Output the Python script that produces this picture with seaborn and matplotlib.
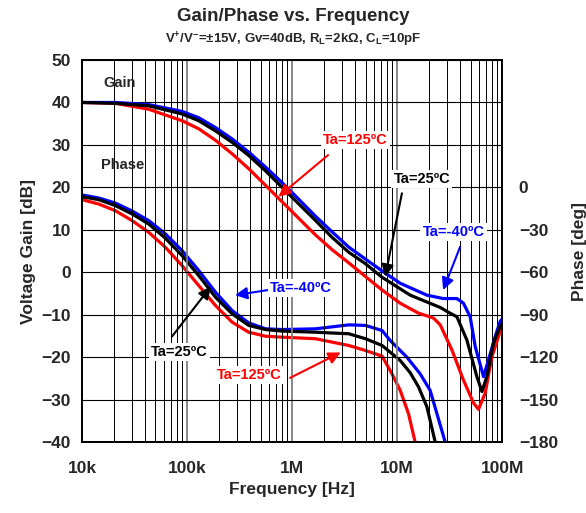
import numpy as np
import pandas as pd
import matplotlib
matplotlib.use("Agg")
import matplotlib.pyplot as plt
import seaborn as sns

# ---- data (frequency given as log10 of Hz) ----
# gain curves [dB]
logf_gain_25 = [4.000, 4.317, 4.635, 4.952, 5.111, 5.270, 5.429, 5.587, 5.746, 5.905, 6.063, 6.222,
                6.381, 6.540, 6.698, 6.857, 7.124, 7.410, 7.500, 7.569, 7.664, 7.759, 7.807, 7.854,
                7.917, 7.980, 8.000]
gain_25 = [40.0, 39.8, 39.2, 37.3, 35.7, 33.3, 30.6, 27.5, 23.9, 20.0, 16.1, 12.2,
           8.2, 4.7, 2.0, -1.2, -5.4, -8.3, -9.6, -10.5, -16.0, -24.6, -28.1, -24.6,
           -16.7, -12.8, -12.2]

logf_gain_m40 = [4.000, 4.317, 4.635, 4.952, 5.111, 5.270, 5.429, 5.587, 5.746, 5.905, 6.063, 6.222,
                 6.381, 6.540, 6.698, 6.857, 7.029, 7.283, 7.438, 7.569, 7.631, 7.695, 7.743, 7.822,
                 7.869, 7.933, 7.980, 8.000]
gain_m40 = [40.0, 40.0, 39.5, 37.9, 36.4, 34.1, 31.4, 28.3, 24.8, 21.1, 17.2, 13.2,
            9.5, 5.9, 3.1, 0.3, -2.6, -5.4, -6.2, -6.2, -7.3, -10.5, -17.5, -24.6,
            -20.7, -15.2, -11.6, -11.0]

logf_gain_125 = [4.000, 4.317, 4.635, 4.952, 5.111, 5.270, 5.429, 5.587, 5.746, 5.905, 6.063, 6.222,
                 6.381, 6.540, 6.698, 6.857, 7.029, 7.200, 7.346, 7.410, 7.521, 7.631, 7.727, 7.774,
                 7.838, 7.902, 7.980, 8.000]
gain_125 = [40.0, 39.8, 38.4, 35.7, 33.8, 31.1, 27.9, 24.4, 20.5, 16.6, 12.7, 8.8,
            5.3, 2.2, -1.0, -4.2, -7.3, -9.6, -10.8, -12.4, -18.3, -25.4, -30.8, -32.3,
            -28.5, -19.9, -14.0, -13.0]

# phase curves [deg]
logf_ph_25 = [4.000, 4.159, 4.317, 4.476, 4.635, 4.794, 4.952, 5.111, 5.270, 5.429, 5.587, 5.746,
              5.905, 6.222, 6.540, 6.698, 6.857, 7.029, 7.124, 7.203, 7.283, 7.362]
phase_25 = [-6.6, -8.7, -12.9, -18.8, -25.9, -36.0, -48.2, -62.4, -77.6, -89.4, -97.6, -100.5,
            -101.6, -102.4, -103.5, -107.0, -111.8, -122.4, -131.0, -141.0, -155.0, -180.0]

logf_ph_m40 = [4.000, 4.159, 4.317, 4.476, 4.635, 4.794, 4.952, 5.111, 5.270, 5.429, 5.587, 5.746,
               5.905, 6.222, 6.540, 6.698, 6.857, 6.933, 7.092, 7.219, 7.314, 7.457]
phase_m40 = [-5.4, -7.5, -11.1, -16.7, -23.5, -32.9, -44.7, -58.8, -74.1, -87.1, -95.8, -100.0,
             -100.5, -100.0, -97.2, -97.6, -101.2, -108.2, -120.0, -131.8, -143.5, -180.0]

logf_ph_125 = [4.000, 4.159, 4.317, 4.476, 4.635, 4.794, 4.952, 5.111, 5.270, 5.429, 5.587, 5.746,
               5.905, 6.222, 6.540, 6.698, 6.857, 6.950, 7.029, 7.108, 7.171]
phase_125 = [-8.7, -11.8, -16.5, -23.5, -31.8, -42.4, -55.3, -69.4, -83.5, -95.3, -102.4, -105.2,
             -105.9, -107.0, -111.8, -115.3, -119.3, -131.8, -143.5, -160.0, -180.0]

x_ticks = [1e4, 1e5, 1e6, 1e7, 1e8]
x_tick_labels = ["10k", "100k", "1M", "10M", "100M"]
gain_ticks = list(range(-40, 51, 10))
phase_ticks = list(range(-180, 1, 30))

sns.set_style("white")
plt.rcParams["font.family"] = ["Liberation Sans", "DejaVu Sans"]
plt.rcParams["font.weight"] = "bold"
plt.rcParams["mathtext.fontset"] = "custom"
plt.rcParams["mathtext.rm"] = "Liberation Sans:bold"
plt.rcParams["mathtext.it"] = "Liberation Sans:bold"
plt.rcParams["mathtext.bf"] = "Liberation Sans:bold"

fig = plt.figure(figsize=(5.86, 5.13), dpi=100)
ax = fig.add_axes([0.140, 0.1384, 0.717, 0.7446])
ax2 = ax.twinx()

RED, BLUE, BLACK = "#ff0000", "#0000ff", "#000000"
LW = 2.3

def draw(a, logf, v, c):
    df = pd.DataFrame({"f": np.power(10.0, logf), "v": v})
    sns.lineplot(data=df, x="f", y="v", ax=a, color=c, lw=LW, sort=False, legend=False)

# gain on left axis
draw(ax, logf_gain_125, gain_125, RED)
draw(ax, logf_gain_m40, gain_m40, BLUE)
draw(ax, logf_gain_25, gain_25, BLACK)
# phase on right axis
draw(ax2, logf_ph_125, phase_125, RED)
draw(ax2, logf_ph_m40, phase_m40, BLUE)
draw(ax2, logf_ph_25, phase_25, BLACK)

ax.set_xscale("log")
ax.set_xlim(1e4, 1e8)
ax.set_ylim(-40, 50)
ax2.set_ylim(-180, 90)
ax.set_xticks(x_ticks)
ax.set_xticklabels(x_tick_labels)
ax.set_yticks(gain_ticks)
ax2.set_yticks(phase_ticks)
ax.grid(True, which="minor", axis="x", color="black", lw=0.7)
ax.grid(True, which="major", axis="x", color="#7f7f7f", lw=1.3)
ax.grid(True, which="major", axis="y", color="black", lw=0.8)
for a in (ax, ax2):
    a.tick_params(which="both", length=0, labelsize=12.5, pad=8)
    for s in a.spines.values():
        s.set_color("black")
        s.set_linewidth(1.4)
    for lab in a.get_xticklabels() + a.get_yticklabels():
        lab.set_fontweight("bold")
ax.tick_params(axis="x", pad=14)
ax2.tick_params(axis="y", pad=12)

ax.set_xlabel("Frequency [Hz]", fontsize=12.5, fontweight="bold", labelpad=4)
ax.set_ylabel("Voltage Gain [dB]", fontsize=12.5, fontweight="bold", labelpad=4)
ax2.set_ylabel("Phase [deg]", fontsize=12.5, fontweight="bold", labelpad=10)
ax2.set_xlim(1e4, 1e8)

fig.text(0.5, 0.968, "Gain/Phase vs. Frequency", ha="center", va="center",
         fontsize=13.5, fontweight="bold")
fig.text(0.5, 0.922, r"V$^{+}$/V$^{-}$=±15V, Gv=40dB, R$_{L}$=2kΩ, C$_{L}$=10pF",
         ha="center", va="center", fontsize=9.5, fontweight="bold")

# labels
ax.text(2.3e4, 44.6, "Gain", ha="center", va="center", fontsize=10.5, fontweight="bold")
ax.text(2.45e4, 25.3, "Phase", ha="center", va="center", fontsize=10.5, fontweight="bold")

box = dict(fc="white", ec="none", pad=1.5)
labels = [
    ("Ta=125ºC", RED, (3.98e6, 31.2), (2.2e6, 27.6), (7.41e5, 17.8)),
    ("Ta=25ºC", BLACK, (1.72e7, 21.9), (1.11e7, 18.6), (7.69e6, -1.06)),
    ("Ta=-40ºC", BLUE, (3.44e7, 9.5), (3.98e7, 6.0), (2.74e7, -4.2)),
    ("Ta=-40ºC", BLUE, (1.22e6, -3.7), (5.9e5, -4.2), (2.86e5, -5.4)),
    ("Ta=25ºC", BLACK, (8.5e4, -18.7), (7.15e4, -15.2), (1.68e5, -3.4)),
    ("Ta=125ºC", RED, (3.95e5, -24.2), (9.55e5, -24.9), (2.9e6, -18.9)),
]
for txt, c, pos, start, tip in labels:
    ax.annotate("", xy=tip, xytext=start, zorder=6,
                arrowprops=dict(arrowstyle="-|>", color=c, lw=1.5, mutation_scale=18,
                                shrinkA=0, shrinkB=0))
    ax.text(pos[0], pos[1], txt, color=c, ha="center", va="center", fontsize=10.5,
            fontweight="bold", bbox=box, zorder=7)

ax.set_zorder(ax2.get_zorder() + 1)
ax.patch.set_visible(False)

fig.savefig("out.png", dpi=100)
